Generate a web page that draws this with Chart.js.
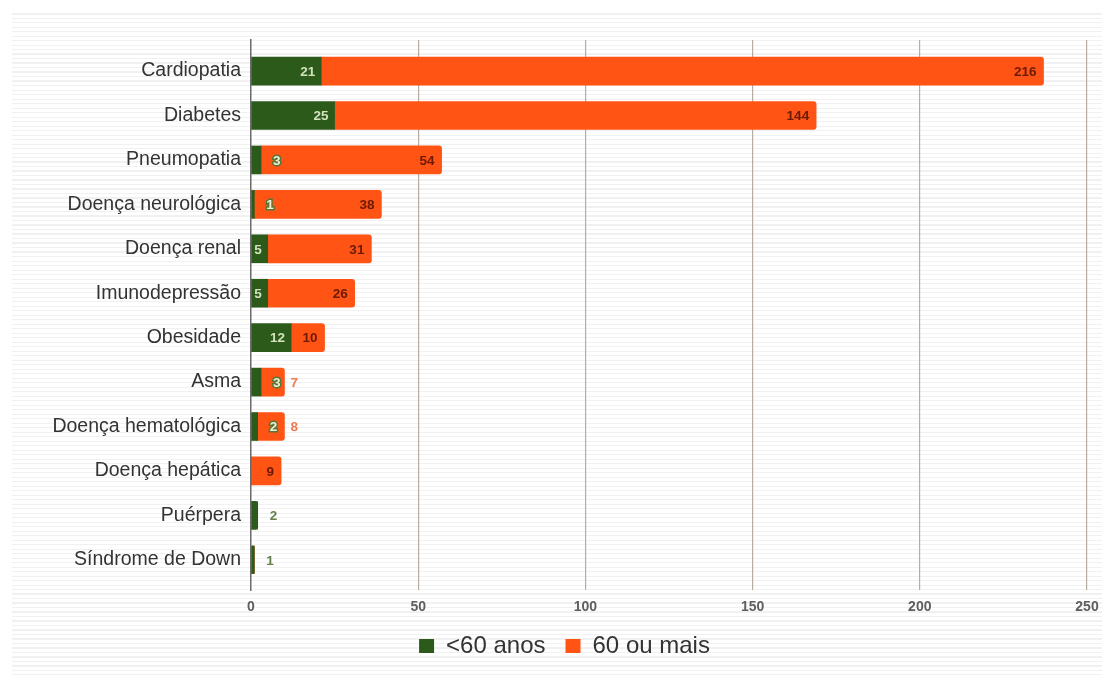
<!DOCTYPE html>
<html>
<head>
<meta charset="utf-8">
<script src="https://cdn.jsdelivr.net/npm/chart.js@4/dist/chart.umd.min.js"></script>
<style>
  html, body { margin: 0; padding: 0; }
  body {
    width: 1108px; height: 685px; overflow: hidden;
    background-color: #ffffff;
  }
  #wrap {
    position: relative; width: 1108px; height: 685px;
    background-image: repeating-linear-gradient(to bottom, #ffffff 0px, #ffffff 3px, #f1f1f1 3px, #f1f1f1 4.5px);
    background-position: 12px 10px;
    background-size: 1090px 665px;
    background-repeat: no-repeat;
  }
  canvas { position: absolute; left: 0; top: 0; }
</style>
</head>
<body>
<div id="wrap"><canvas id="c" width="1108" height="685"></canvas></div>
<script>
const categories = ["Cardiopatia", "Diabetes", "Pneumopatia", "Doença neurológica", "Doença renal", "Imunodepressão", "Obesidade", "Asma", "Doença hematológica", "Doença hepática", "Puérpera", "Síndrome de Down"];
const under60 = [21, 25, 3, 1, 5, 5, 12, 3, 2, 0, 2, 1];
const over60 = [216, 144, 54, 38, 31, 26, 10, 7, 8, 9, 0, 0];
const seriesNames = ["<60 anos", "60 ou mais"];
const xTicks = [0, 50, 100, 150, 200, 250];

const GREEN = '#2b5a1b';
const ORANGE = '#ff5414';

const labelPlugin = {
  id: 'valueLabels',
  afterDatasetsDraw(chart) {
    const ctx = chart.ctx;
    ctx.save();
    ctx.font = 'bold 13.5px "Liberation Sans", Arial, sans-serif';
    ctx.textBaseline = 'middle';
    chart.data.datasets.forEach((ds, di) => {
      const meta = chart.getDatasetMeta(di);
      meta.data.forEach((bar, i) => {
        const v = ds.data[i].x;
        if (!v) return;
        const txt = String(v);
        const w = ctx.measureText(txt).width;
        const left = Math.min(bar.x, bar.base), right = Math.max(bar.x, bar.base);
        const segW = right - left;
        const y = bar.y + 1;
        if (di === 0) {
          if (segW >= w + 6) {
            ctx.textAlign = 'right';
            ctx.fillStyle = '#d3e2bd';
            ctx.fillText(txt, right - 6, y);
          } else {
            ctx.textAlign = 'left';
            const x = right + 12;
            if (over60[i] > 0) {
              ctx.lineWidth = 3;
              ctx.strokeStyle = '#5a7434';
              ctx.strokeText(txt, x, y);
              ctx.fillStyle = '#eef0d8';
              ctx.fillText(txt, x, y);
            } else {
              ctx.fillStyle = '#62814a';
              ctx.fillText(txt, x, y);
            }
          }
        } else {
          if (segW >= 28) {
            ctx.textAlign = 'right';
            ctx.fillStyle = '#6a1a05';
            ctx.fillText(txt, right - 7, y);
          } else {
            ctx.textAlign = 'left';
            ctx.fillStyle = '#f07a50';
            ctx.fillText(txt, right + 6, y);
          }
        }
      });
    });
    ctx.restore();
  }
};

const toPoints = arr => arr.map((v, i) => ({ x: v, y: i }));

new Chart(document.getElementById('c'), {
  type: 'bar',
  data: {
    datasets: [
      { label: seriesNames[0], data: toPoints(under60), backgroundColor: GREEN, borderRadius: 2, borderSkipped: 'start' },
      { label: seriesNames[1], data: toPoints(over60), backgroundColor: ORANGE, borderRadius: 3, borderSkipped: 'start' }
    ]
  },
  options: {
    indexAxis: 'y',
    responsive: false,
    animation: false,
    maintainAspectRatio: false,
    layout: { padding: { top: 40, left: 42, right: 21, bottom: 17 } },
    datasets: { bar: { barThickness: 28 } },
    scales: {
      x: {
        type: 'linear',
        stacked: true,
        min: 0, max: 250,
        afterBuildTicks: s => { s.ticks = xTicks.map(v => ({ value: v })); },
        afterFit: s => { s.height = 24; },
        grid: {
          drawTicks: false,
          color: c => (c.tick && c.tick.value === 0) ? 'rgba(0,0,0,0)' : '#b5ad9f',
          lineWidth: 1.2
        },
        border: { display: false },
        ticks: {
          padding: 9,
          color: '#5e5e5e',
          font: { family: '"Liberation Sans", Arial, sans-serif', size: 14, weight: 'bold' }
        }
      },
      y: {
        type: 'linear',
        stacked: true,
        reverse: true,
        offset: false,
        min: -0.7, max: 11.68,
        afterFit: s => { s.width = 209; },
        grid: { display: false, drawTicks: false, offset: false },
        border: { display: true, color: '#6b6b6b', width: 1.5 },
        ticks: {
          stepSize: 1,
          autoSkip: false,
          padding: 10,
          color: '#333333',
          font: { family: '"Liberation Sans", Arial, sans-serif', size: 19.5 },
          callback: v => (Number.isInteger(v) && categories[v] !== undefined) ? categories[v] : ''
        }
      }
    },
    plugins: {
      legend: {
        position: 'bottom',
        labels: {
          boxWidth: 15, boxHeight: 14, padding: 20,
          color: '#333333',
          font: { family: '"Liberation Sans", Arial, sans-serif', size: 24 }
        }
      },
      tooltip: { enabled: false }
    }
  },
  plugins: [labelPlugin]
});
</script>
</body>
</html>
